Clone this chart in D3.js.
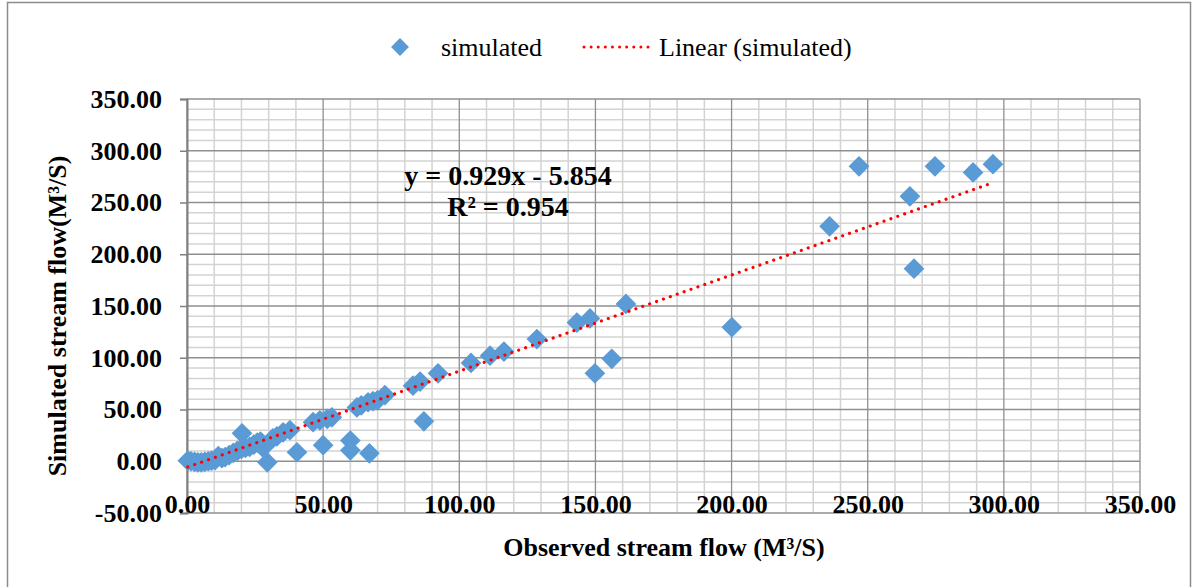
<!DOCTYPE html>
<html>
<head>
<meta charset="utf-8">
<script src="https://cdn.jsdelivr.net/npm/d3@7"></script>
<style>
  body { margin: 0; background: #fff; }
  text { font-family: "Liberation Serif", "Times New Roman", serif; }
</style>
</head>
<body>
<script>
// observed vs simulated stream flow
var observed = [0.3, 1.5, 2.8, 4.0, 5.2, 6.5, 7.8, 9.0, 10.3, 11.5, 12.8, 14.0, 15.5, 17.0, 18.5,
  20.2, 20.0, 21.5, 23.0, 24.5, 25.8, 27.0, 28.0, 29.5, 31.5, 33.0, 35.3, 37.8, 40.4, 46.3,
  48.8, 50.0, 51.5, 53.2, 60.0, 60.0, 62.4, 64.0, 66.5, 67.0, 68.3, 70.0, 72.7, 83.0, 85.6,
  87.0, 92.2, 104.3, 111.3, 116.4, 128.5, 143.2, 148.0, 149.8, 156.0, 161.2, 200.1, 236.0,
  246.8, 265.5, 267.0, 274.7, 288.7, 296.0];
var simulated = [0.5, 0.0, -0.5, -1.0, -1.0, -0.5, 0.0, 0.5, 1.0, 5.0, 3.0, 4.0, 6.0, 8.0, 10.0,
  27.0, 12.0, 13.0, 14.0, 16.0, 18.0, 19.0, 13.0, -1.0, 22.0, 24.0, 28.0, 30.0, 8.7, 37.7,
  39.6, 15.5, 41.0, 42.5, 20.0, 10.6, 52.0, 54.0, 57.0, 7.7, 58.0, 59.0, 64.0, 73.0, 77.0,
  38.6, 85.0, 95.0, 102.0, 106.0, 118.0, 134.0, 138.0, 85.0, 99.0, 152.0, 129.5, 227.0,
  285.0, 256.0, 186.0, 285.0, 279.0, 287.0];

var xTicks = [0, 50, 100, 150, 200, 250, 300, 350];
var yTicks = [-50, 0, 50, 100, 150, 200, 250, 300, 350];

// trendline as printed on the chart
var slope = 0.929, intercept = -5.854, r2 = 0.954;

var width = 1198, height = 587;
var svg = d3.select("body").append("svg").attr("width", width).attr("height", height);

// chart frame
svg.append("rect").attr("x", 7.5).attr("y", 2.5).attr("width", 1183).attr("height", 600)
   .attr("fill", "#fff").attr("stroke", "#8c8c8c").attr("stroke-width", 1.5);

var x = d3.scaleLinear().domain([0, 350]).range([187, 1140]);
var y = d3.scaleLinear().domain([-50, 350]).range([513, 99]);

var grid = svg.append("g");
var minorX = d3.range(0, 351, 10), minorY = d3.range(-50, 351, 10);

grid.selectAll(".mx").data(minorX.filter(function(d){ return d % 50 != 0; }))
  .enter().append("line")
  .attr("x1", function(d){ return x(d); }).attr("x2", function(d){ return x(d); })
  .attr("y1", y(-50)).attr("y2", y(350))
  .attr("stroke", "#d3d3d3").attr("stroke-width", 1.5);
grid.selectAll(".my").data(minorY.filter(function(d){ return d % 50 != 0; }))
  .enter().append("line")
  .attr("y1", function(d){ return y(d); }).attr("y2", function(d){ return y(d); })
  .attr("x1", x(0)).attr("x2", x(350))
  .attr("stroke", "#d3d3d3").attr("stroke-width", 1.5);
grid.selectAll(".Mx").data(xTicks)
  .enter().append("line")
  .attr("x1", function(d){ return x(d); }).attr("x2", function(d){ return x(d); })
  .attr("y1", y(-50)).attr("y2", y(350))
  .attr("stroke", "#8f8f8f").attr("stroke-width", 1.3);
grid.selectAll(".My").data(yTicks)
  .enter().append("line")
  .attr("y1", function(d){ return y(d); }).attr("y2", function(d){ return y(d); })
  .attr("x1", x(0)).attr("x2", x(350))
  .attr("stroke", "#8f8f8f").attr("stroke-width", 1.5);

var fmt = function(d){ return d.toFixed(2); };

// y axis
var yAxis = svg.append("g").attr("transform", "translate(" + x(0) + ",0)")
  .call(d3.axisLeft(y).tickValues(yTicks).tickSize(7).tickPadding(18).tickFormat(fmt));
yAxis.select(".domain").attr("stroke", "#808080").attr("stroke-width", 2);
yAxis.selectAll(".tick line").attr("stroke", "#808080").attr("stroke-width", 1.5);
yAxis.selectAll("text").attr("font-size", 26).attr("font-weight", "bold")
  .attr("font-family", "'Liberation Serif', 'Times New Roman', serif").attr("fill", "#000");

// x axis labels sit on the bottom edge
var xAxis = svg.append("g").attr("transform", "translate(0," + y(-50) + ")")
  .call(d3.axisBottom(x).tickValues(xTicks).tickSize(0).tickFormat(fmt));
xAxis.select(".domain").remove();
xAxis.selectAll("text").attr("y", 0).attr("dy", 0)
  .attr("font-size", 26).attr("font-weight", "bold")
  .attr("font-family", "'Liberation Serif', 'Times New Roman', serif").attr("fill", "#000");

// points
var pts = observed.map(function(o, i){ return {x: o, y: simulated[i]}; });
var diamond = d3.symbol().type(d3.symbolSquare).size(215);
svg.append("g").selectAll("path").data(pts).enter().append("path")
  .attr("d", diamond)
  .attr("transform", function(d){ return "translate(" + x(d.x) + "," + y(d.y) + ") rotate(45)"; })
  .attr("fill", "#5b9bd5");

// linear trend
var xMin = d3.min(observed), xMax = d3.max(observed);
svg.append("line")
  .attr("x1", x(xMin)).attr("y1", y(slope * xMin + intercept))
  .attr("x2", x(xMax)).attr("y2", y(slope * xMax + intercept))
  .attr("stroke", "#ff0000").attr("stroke-width", 3.2)
  .attr("stroke-linecap", "round").attr("stroke-dasharray", "0.01 7.3");

// equation
var eq = svg.append("text").attr("text-anchor", "middle")
  .attr("font-size", 28).attr("font-weight", "bold").attr("fill", "#000");
eq.append("tspan").attr("x", 508).attr("y", 185)
  .text("y = " + slope.toFixed(3) + "x - " + Math.abs(intercept).toFixed(3));
eq.append("tspan").attr("x", 508).attr("y", 216).text("R² = " + r2.toFixed(3));

// legend
var lg = svg.append("g");
lg.append("path").attr("d", d3.symbol().type(d3.symbolSquare).size(160))
  .attr("transform", "translate(400,47) rotate(45)").attr("fill", "#5b9bd5");
lg.append("text").attr("x", 441).attr("y", 56).attr("font-size", 26).text("simulated");
lg.append("line").attr("x1", 584).attr("x2", 648).attr("y1", 47).attr("y2", 47)
  .attr("stroke", "#ff0000").attr("stroke-width", 3)
  .attr("stroke-linecap", "round").attr("stroke-dasharray", "0.01 7.1");
lg.append("text").attr("x", 659).attr("y", 56).attr("font-size", 26).text("Linear (simulated)");

// axis titles
svg.append("text").attr("x", 664).attr("y", 556).attr("text-anchor", "middle")
  .attr("font-size", 26).attr("font-weight", "bold").text("Observed stream flow (M³/S)");
svg.append("text").attr("transform", "translate(66,316) rotate(-90)").attr("text-anchor", "middle")
  .attr("font-size", 26).attr("font-weight", "bold").text("Simulated stream flow(M³/S)");
</script>
</body>
</html>
